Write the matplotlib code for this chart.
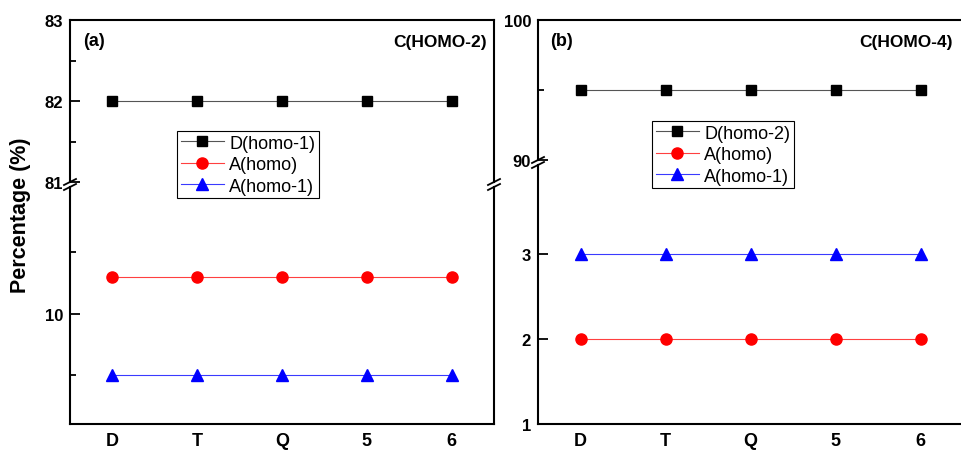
import matplotlib
matplotlib.use('Agg')
import matplotlib.pyplot as plt
from matplotlib.lines import Line2D
import numpy as np

plt.rcParams['font.family'] = ['Liberation Sans', 'DejaVu Sans']

# ---------- data ----------
categories = ['D', 'T', 'Q', '5', '6']
a_D_homo1 = [82, 82, 82, 82, 82]
a_A_homo = [10.3, 10.3, 10.3, 10.3, 10.3]
a_A_homo1 = [9.5, 9.5, 9.5, 9.5, 9.5]
b_D_homo2 = [95, 95, 95, 95, 95]
b_A_homo = [2, 2, 2, 2, 2]
b_A_homo1 = [3, 3, 3, 3, 3]

W, H = 961, 452
fig = plt.figure(figsize=(W / 100, H / 100), dpi=100)


def px_axes(x0, x1, y0, y1):
    # y measured from top in pixels
    return fig.add_axes([x0 / W, 1 - y1 / H, (x1 - x0) / W, (y1 - y0) / H])


def style_axes(ax, top_part):
    for s in ax.spines.values():
        s.set_linewidth(1.5)
    ax.set_xlim(-0.5, 4.5)
    ax.tick_params(axis='y', which='major', direction='in', length=7, width=1.3,
                   labelsize=12, pad=5)
    ax.tick_params(axis='y', which='minor', direction='in', length=4, width=1.3)
    ax.tick_params(axis='x', length=0, labelsize=13, pad=6)
    for lab in ax.get_yticklabels() + ax.get_xticklabels():
        lab.set_fontweight('bold')
    if top_part:
        ax.spines['bottom'].set_visible(False)
        ax.tick_params(axis='x', labelbottom=False)
    else:
        ax.spines['top'].set_visible(False)


def draw_series(ax, x, d, a, a1):
    hs = []
    hs += ax.plot(x, d, '-s', color='#555555', lw=0.8, ms=7.3, mfc='black', mec='black')
    hs += ax.plot(x, a, '-o', color='#ff4040', lw=0.8, ms=8, mfc='red', mec='red')
    hs += ax.plot(x, a1, '-^', color='#3a3aff', lw=0.8, ms=8.5, mfc='blue', mec='blue')
    return hs


def break_marks(x, y_top, y_bot):
    for y in (y_top, y_bot):
        fig.add_artist(Line2D([(x - 6) / W, (x + 6) / W], [1 - (y + 3) / H, 1 - (y - 3) / H],
                              color='black', lw=1.3, transform=fig.transFigure))


x = np.arange(len(categories))

# ---------- panel (a) ----------
axa_top = px_axes(70, 494, 21, 183)
axa_bot = px_axes(70, 494, 188, 425)
h_a = draw_series(axa_top, x, a_D_homo1, a_A_homo, a_A_homo1)
draw_series(axa_bot, x, a_D_homo1, a_A_homo, a_A_homo1)
axa_top.set_ylim(81, 83)
axa_top.set_yticks([81, 82, 83])
axa_top.set_yticks([81.5, 82.5], minor=True)
axa_bot.set_ylim(9.106, 11.03)
axa_bot.set_yticks([10])
axa_bot.set_yticks([9.5, 10.5], minor=True)
for ax in (axa_top, axa_bot):
    ax.set_xticks(x)
    ax.set_xticklabels(categories)
style_axes(axa_top, True)
style_axes(axa_bot, False)
break_marks(70, 183, 188)
break_marks(494, 183, 188)

# ---------- panel (b) ----------
axb_top = px_axes(538, 963, 21, 161)
axb_bot = px_axes(538, 963, 166, 425)
h_b = draw_series(axb_top, x, b_D_homo2, b_A_homo, b_A_homo1)
draw_series(axb_bot, x, b_D_homo2, b_A_homo, b_A_homo1)
axb_top.set_ylim(90, 100)
axb_top.set_yticks([90, 100])
axb_top.set_yticks([95], minor=True)
axb_bot.set_ylim(1, 4.05)
axb_bot.set_yticks([1, 2, 3])
for ax in (axb_top, axb_bot):
    ax.set_xticks(x)
    ax.set_xticklabels(categories)
style_axes(axb_top, True)
style_axes(axb_bot, False)
break_marks(538, 161, 166)

# ---------- legends ----------
leg_kw = dict(loc='upper left', fontsize=13, frameon=True, fancybox=False,
              framealpha=1, edgecolor='black', borderaxespad=0, borderpad=0.2,
              labelspacing=0.25, handlelength=2.4, handletextpad=0.3)
la = fig.legend(h_a, ['D(homo-1)', 'A(homo)', 'A(homo-1)'],
                bbox_to_anchor=(177 / W, 1 - 132 / H), **leg_kw)
la.get_frame().set_linewidth(0.8)
lb = fig.legend(h_b, ['D(homo-2)', 'A(homo)', 'A(homo-1)'],
                bbox_to_anchor=(652 / W, 1 - 122 / H), **leg_kw)
lb.get_frame().set_linewidth(0.8)

# ---------- labels ----------
fig.text(83 / W, 1 - 42 / H, '(a)', ha='left', va='center', fontsize=13, fontweight='bold')
fig.text(487 / W, 1 - 42 / H, 'C(HOMO-2)', ha='right', va='center', fontsize=12.5, fontweight='bold')
fig.text(550 / W, 1 - 42 / H, '(b)', ha='left', va='center', fontsize=13, fontweight='bold')
fig.text(953 / W, 1 - 42 / H, 'C(HOMO-4)', ha='right', va='center', fontsize=12.5, fontweight='bold')
fig.text(21 / W, 1 - 215 / H, 'Percentage (%)', rotation=90, ha='center', va='center',
         fontsize=15.5, fontweight='bold')

plt.savefig('out.png', dpi=100)
